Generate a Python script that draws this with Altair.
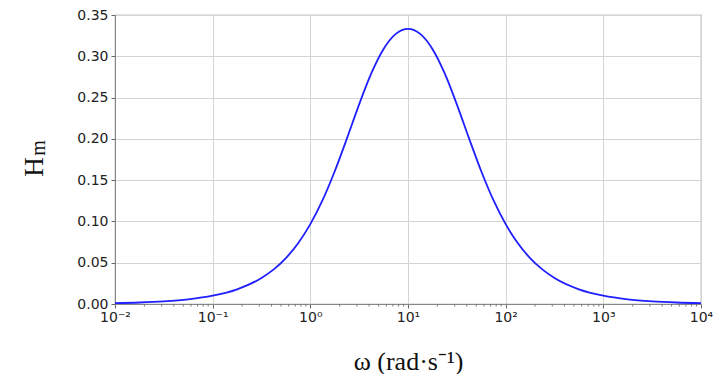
import altair as alt
import pandas as pd

# angular frequency (rad/s) and magnitude
omega = [0.01, 0.0178, 0.0316, 0.0562, 0.1, 0.178, 0.316, 0.422, 0.562, 0.750,
         1.0, 1.334, 1.778, 2.371, 3.162, 4.217, 5.623, 7.499, 10.0,
         13.34, 17.78, 23.71, 31.62, 42.17, 56.23, 74.99, 100.0, 133.4, 177.8,
         237.1, 316.2, 562.3, 1000.0, 1778.0, 3162.0, 5623.0, 10000.0]
hm = [0.0010, 0.0018, 0.0032, 0.0056, 0.0100, 0.0178, 0.0315, 0.0419, 0.0556, 0.0736,
      0.0967, 0.1257, 0.1608, 0.2006, 0.2418, 0.2795, 0.3089, 0.3272, 0.3333,
      0.3272, 0.3089, 0.2795, 0.2418, 0.2006, 0.1608, 0.1257, 0.0967, 0.0736, 0.0556,
      0.0419, 0.0315, 0.0178, 0.0100, 0.0056, 0.0032, 0.0018, 0.0010]

x_ticks = [0.01, 0.1, 1, 10, 100, 1000, 10000]
x_labels = ["10⁻²", "10⁻¹", "10⁰", "10¹", "10²", "10³", "10⁴"]
y_ticks = [0.0, 0.05, 0.10, 0.15, 0.20, 0.25, 0.30, 0.35]
minor_ticks = [m * d for d in [0.01, 0.1, 1, 10, 100, 1000] for m in range(2, 10)]

df = pd.DataFrame({"omega": omega, "hm": hm})
minor_df = pd.DataFrame({"omega": minor_ticks})

W, H = 586, 289

label_map = "{" + ",".join(f"'{v}':'{l}'" for v, l in zip(x_ticks, x_labels)) + "}"

xscale = alt.Scale(type="log", domain=[0.01, 10000], nice=False)
yscale = alt.Scale(domain=[0, 0.35], nice=False)

line = alt.Chart(df).mark_line(color="#1f1fff", strokeWidth=1.8, interpolate="monotone").encode(
    x=alt.X("omega:Q", scale=xscale,
            axis=alt.Axis(values=x_ticks,
                          labelExpr=f"{label_map}[toString(datum.value)] || datum.label",
                          title="ω (rad·s⁻¹)", titleFont="Liberation Serif",
                          titleFontSize=26, titleFontWeight="normal", titleColor="#111",
                          titlePadding=24, labelFont="DejaVu Sans", labelFontSize=14,
                          labelColor="#222", labelPadding=2, tickSize=4,
                          tickColor="#666", domainColor="#888", gridColor="#d4d4d4",
                          labelFlush=False, labelOverlap=False)),
    y=alt.Y("hm:Q", scale=yscale,
            axis=alt.Axis(values=y_ticks, format=".2f", title=None,
                          labelFont="DejaVu Sans", labelFontSize=14, labelColor="#222",
                          labelPadding=3, tickSize=4, tickColor="#666",
                          domainColor="#888", gridColor="#d4d4d4")),
)

minor = alt.Chart(minor_df).mark_rule(color="#777", strokeWidth=1).encode(
    x=alt.X("omega:Q", scale=xscale),
    y=alt.value(H),
    y2=alt.value(H + 2.5),
)

ytitle_h = alt.Chart(pd.DataFrame({"t": ["H"]})).mark_text(
    font="Liberation Serif", fontSize=27, angle=270, align="center", baseline="alphabetic",
    color="#111").encode(text="t:N", x=alt.value(-72), y=alt.value(152))
ytitle_m = alt.Chart(pd.DataFrame({"t": ["m"]})).mark_text(
    font="Liberation Serif", fontSize=20, angle=270, align="center", baseline="alphabetic",
    color="#111").encode(text="t:N", x=alt.value(-70), y=alt.value(133))

chart = alt.layer(line, minor, ytitle_h, ytitle_m).properties(
    width=W, height=H,
    autosize=alt.AutoSizeParams(type="none"),
    padding={"left": 107, "top": 7, "right": 15, "bottom": 70},
).configure_view(stroke="#999", strokeWidth=1.2).configure_axis(grid=True, gridWidth=1)

chart.save("out.html", embed_options={"renderer": "svg", "actions": False})
